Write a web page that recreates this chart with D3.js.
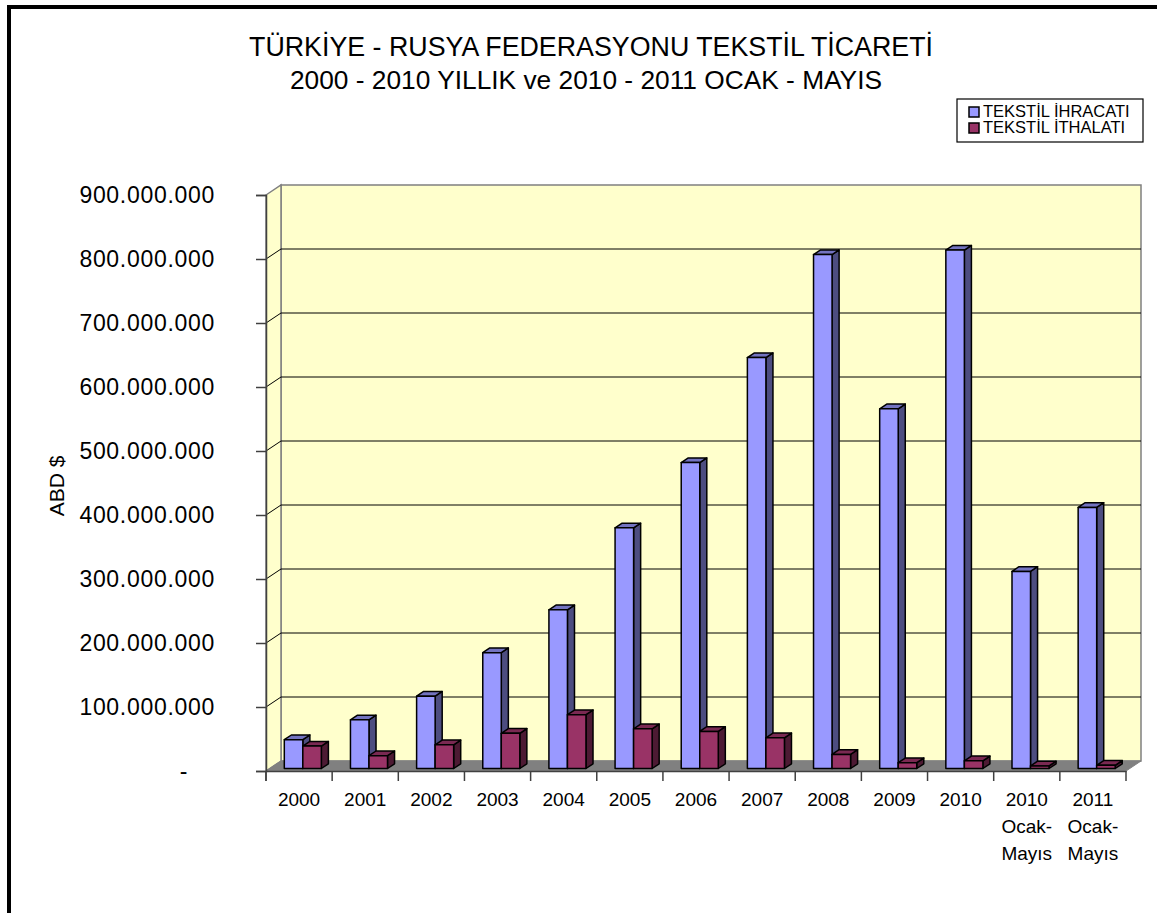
<!DOCTYPE html>
<html>
<head>
<meta charset="utf-8">
<script src="https://cdn.jsdelivr.net/npm/d3@7"></script>
<style>
  body { margin: 0; background: #fff; }
  text { font-family: Arial, "Liberation Sans", sans-serif; fill: #000; }
</style>
</head>
<body>
<div id="chart"></div>
<script>
// categories (multi-line labels split with \n)
const categories = ['2000', '2001', '2002', '2003', '2004', '2005', '2006', '2007', '2008', '2009', '2010',
  '2010\nOcak-\nMayıs', '2011\nOcak-\nMayıs'];
const seriesNames = ['TEKSTİL İHRACATI', 'TEKSTİL İTHALATI'];
const ihracat = [45e6, 76e6, 113e6, 181e6, 248e6, 376e6, 478e6, 642e6, 803e6, 562e6, 810e6, 308e6, 408e6];
const ithalat = [35e6, 20e6, 37e6, 55e6, 84e6, 62e6, 58e6, 48e6, 22e6, 9e6, 12e6, 4e6, 5e6];
const yTicks = [0, 100e6, 200e6, 300e6, 400e6, 500e6, 600e6, 700e6, 800e6, 900e6];

const width = 1157, height = 913;
const plot = { left: 266, right: 1126, top: 195, bottom: 771 };
const depth = { dx: 15, dy: -10 };   // 3d depth of floor / walls
const barFront = 0.25, barBack = 0.72;  // bar position inside depth

const colors = [
  { front: '#9999FF', side: '#4D4D80', top: '#7373C0' },
  { front: '#993366', side: '#4D1A33', top: '#7A2952' }
];

const svg = d3.select('#chart').append('svg')
  .attr('width', width).attr('height', height);

// outer frame
svg.append('rect').attr('x', 9).attr('y', 7).attr('width', 1170).attr('height', 930)
  .attr('fill', 'none').attr('stroke', '#000').attr('stroke-width', 4);

const x = d3.scaleBand().domain(categories).range([plot.left, plot.right])
  .paddingInner(0.44).paddingOuter(0.22);
const xs = d3.scaleBand().domain(seriesNames).range([0, x.bandwidth()]);
const y = d3.scaleLinear().domain([0, 900e6]).range([plot.bottom, plot.top]);

// walls
const bx = depth.dx, by = depth.dy;
svg.append('polygon')   // back wall
  .attr('points', [[plot.left + bx, plot.top + by], [plot.right + bx, plot.top + by],
    [plot.right + bx, plot.bottom + by], [plot.left + bx, plot.bottom + by]].join(' '))
  .attr('fill', '#FFFFCC').attr('stroke', '#808080').attr('stroke-width', 1.5);
svg.append('polygon')   // side wall
  .attr('points', [[plot.left, plot.top], [plot.left + bx, plot.top + by],
    [plot.left + bx, plot.bottom + by], [plot.left, plot.bottom]].join(' '))
  .attr('fill', '#FFFFCC').attr('stroke', '#808080').attr('stroke-width', 1.5);

// gridlines
const grid = svg.append('g');
yTicks.filter(t => t > 0 && t < 900e6).forEach(t => {
  grid.append('polyline')
    .attr('points', [[plot.left, y(t)], [plot.left + bx, y(t) + by], [plot.right + bx, y(t) + by]].join(' '))
    .attr('fill', 'none').attr('stroke', '#000').attr('stroke-width', 1);
});

// floor
svg.append('polygon')
  .attr('points', [[plot.left, plot.bottom], [plot.right, plot.bottom],
    [plot.right + bx, plot.bottom + by], [plot.left + bx, plot.bottom + by]].join(' '))
  .attr('fill', '#808080').attr('stroke', '#808080');

// bars
const bars = svg.append('g');
categories.forEach((c, i) => {
  [ihracat[i], ithalat[i]].forEach((v, s) => {
    const ox = bx * barFront, oy = by * barFront;
    const dx = bx * (barBack - barFront), dy = by * (barBack - barFront);
    const x0 = x(c) + xs(seriesNames[s]) + ox, x1 = x0 + xs.bandwidth();
    const yb = y(0) + oy, yt = y(v) + oy;
    const g = bars.append('g').attr('stroke', '#000').attr('stroke-width', 1.5)
      .attr('stroke-linejoin', 'round');
    g.append('polygon').attr('fill', colors[s].side)
      .attr('points', [[x1, yb], [x1 + dx, yb + dy], [x1 + dx, yt + dy], [x1, yt]].join(' '));
    g.append('polygon').attr('fill', colors[s].top)
      .attr('points', [[x0, yt], [x1, yt], [x1 + dx, yt + dy], [x0 + dx, yt + dy]].join(' '));
    g.append('rect').attr('fill', colors[s].front)
      .attr('x', x0).attr('y', yt).attr('width', x1 - x0).attr('height', yb - yt);
  });
});

// y axis
const fmt = v => v === 0 ? '-' : d3.format(',')(v).replace(/,/g, '.');
const yAxis = svg.append('g').attr('transform', `translate(${plot.left},0)`)
  .call(d3.axisLeft(y).tickValues(yTicks).tickSize(10).tickPadding(41).tickFormat(fmt));
yAxis.select('.domain').attr('stroke', '#404040').attr('stroke-width', 1.5);
yAxis.selectAll('.tick line').attr('stroke', '#404040').attr('stroke-width', 1.5);
yAxis.selectAll('.tick text').attr('font-size', 23).attr('letter-spacing', 0.7)
  .attr('font-family', 'Arial, "Liberation Sans", sans-serif').attr('fill', '#000');
yAxis.selectAll('.tick text').filter(d => d === 0).attr('x', -78);
// axis line continues down to the first category tick
yAxis.append('line').attr('x1', 0).attr('x2', 0).attr('y1', plot.bottom).attr('y2', plot.bottom + 10)
  .attr('stroke', '#404040').attr('stroke-width', 1.5);

// x axis
const xAxis = svg.append('g').attr('transform', `translate(0,${plot.bottom})`)
  .call(d3.axisBottom(x).tickSize(0).tickFormat(''));
xAxis.select('.domain').attr('stroke', '#404040').attr('stroke-width', 1.5);
const step = x.step();
const tickPos = d3.range(categories.length + 1).map(i => plot.left + i * step);
xAxis.selectAll('.sep').data(tickPos).join('line').attr('class', 'sep')
  .attr('x1', d => d).attr('x2', d => d).attr('y1', 0).attr('y2', 10)
  .attr('stroke', '#404040').attr('stroke-width', 1.5);
xAxis.selectAll('.lbl').data(categories).join('text').attr('class', 'lbl')
  .attr('text-anchor', 'middle').attr('font-size', 19)
  .each(function (d, i) {
    const t = d3.select(this);
    d.split('\n').forEach((line, k) => {
      t.append('tspan').attr('x', x(d) + x.bandwidth() / 2)
        .attr('y', 35 + k * 27).text(line);
    });
  });

// y title
svg.append('text').attr('transform', 'translate(64,486) rotate(-90)')
  .attr('text-anchor', 'middle').attr('font-size', 21).text('ABD $');

// title
svg.append('text').attr('x', 591).attr('y', 56).attr('text-anchor', 'middle')
  .attr('font-size', 26.8).text('TÜRKİYE - RUSYA FEDERASYONU TEKSTİL TİCARETİ');
svg.append('text').attr('x', 586).attr('y', 89).attr('text-anchor', 'middle')
  .attr('font-size', 26.3).text('2000 - 2010 YILLIK ve 2010 - 2011 OCAK - MAYIS');

// legend
const lg = svg.append('g').attr('transform', 'translate(957,99)');
lg.append('rect').attr('width', 186).attr('height', 43).attr('fill', '#fff')
  .attr('stroke', '#000').attr('stroke-width', 1.2);
seriesNames.forEach((n, i) => {
  lg.append('rect').attr('x', 12).attr('y', 8 + i * 16).attr('width', 10).attr('height', 10)
    .attr('fill', colors[i].front).attr('stroke', '#000').attr('stroke-width', 1.5);
  lg.append('text').attr('x', 26).attr('y', 18 + i * 16).attr('font-size', 16.5).text(n);
});
</script>
</body>
</html>
